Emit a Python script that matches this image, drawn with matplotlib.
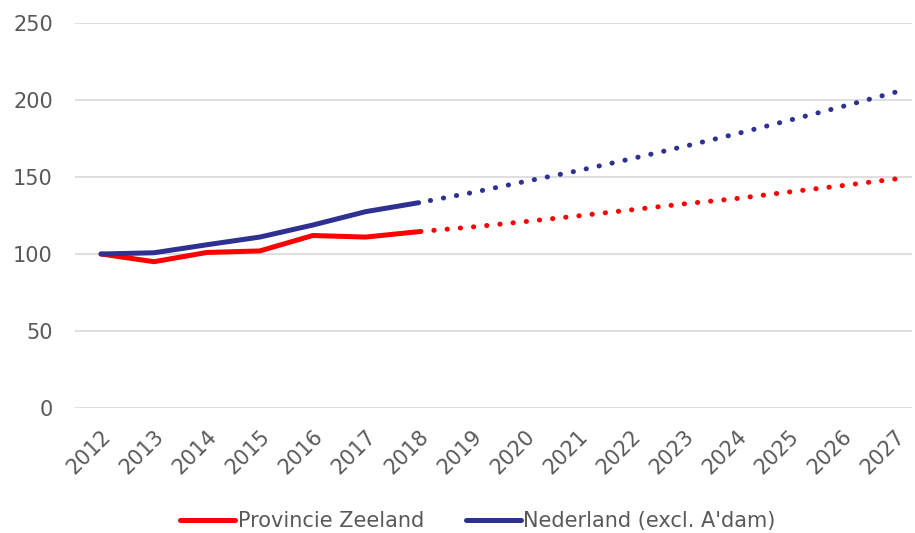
import matplotlib
matplotlib.use("Agg")
import matplotlib.pyplot as plt
from matplotlib.lines import Line2D

years = list(range(2012, 2028))
hist_years = list(range(2012, 2019))
proj_years = list(range(2018, 2028))

zeeland_hist = [100, 95, 101, 102, 112, 111, 114.5]
zeeland_proj = [114.5, 117.5, 121, 124.7, 128.6, 132.5, 136, 140.3, 144.4, 148.7]

nl_hist = [100, 100.8, 106, 111, 118.8, 127.5, 133.3]
nl_proj = [133.3, 139.8, 147, 154, 161.7, 169.7, 178, 186.8, 195.7, 205]

y_ticks = [0, 50, 100, 150, 200, 250]
legend_labels = ["Provincie Zeeland", "Nederland (excl. A'dam)"]

red = "#ff0000"
blue = "#2e3192"
text_col = "#595959"
grid_col = "#d9d9d9"

plt.rcParams["font.family"] = ["DejaVu Sans"]

fig = plt.figure(figsize=(9.15, 5.33), dpi=100)
ax = fig.add_axes([75 / 915, 1 - 408 / 533, (912 - 75) / 915, (408 - 23) / 533])

lw = 3.6
dot_style = (0, (0.05, 2.6))
# projections are stroked from the far end so a dot sits on the final value
ax.plot(hist_years, zeeland_hist, color=red, lw=lw, solid_capstyle="round", solid_joinstyle="round", zorder=3)
ax.plot(proj_years[::-1], zeeland_proj[::-1], color=red, lw=lw, linestyle=dot_style, dash_capstyle="round", zorder=3)
ax.plot(hist_years, nl_hist, color=blue, lw=lw, solid_capstyle="round", solid_joinstyle="round", zorder=4)
ax.plot(proj_years[::-1], nl_proj[::-1], color=blue, lw=lw, linestyle=dot_style, dash_capstyle="round", zorder=4)

ax.set_ylim(0, 250)
ax.set_xlim(2012 - 26 / 52.93, 2027 + 17 / 52.93)
ax.set_yticks(y_ticks)
ax.set_xticks(years)
ax.set_xticklabels([str(y) for y in years], rotation=45, ha="right", rotation_mode="anchor")
ax.yaxis.grid(True, color=grid_col, lw=1.2)
ax.set_axisbelow(True)
for s in ax.spines.values():
    s.set_visible(False)
ax.tick_params(axis="both", length=0, colors=text_col, labelsize=15)
ax.tick_params(axis="y", pad=16)
ax.tick_params(axis="x", pad=13)

handles = [Line2D([], [], color=red, lw=lw, solid_capstyle="round"),
           Line2D([], [], color=blue, lw=lw, solid_capstyle="round")]
fig.legend(handles, legend_labels, loc="center", bbox_to_anchor=(478 / 915, 1 - 521 / 533),
           ncol=2, frameon=False, fontsize=15, handlelength=2.65, handletextpad=0.12,
           columnspacing=2.0, labelcolor=text_col)

fig.savefig("out.png", dpi=100)
